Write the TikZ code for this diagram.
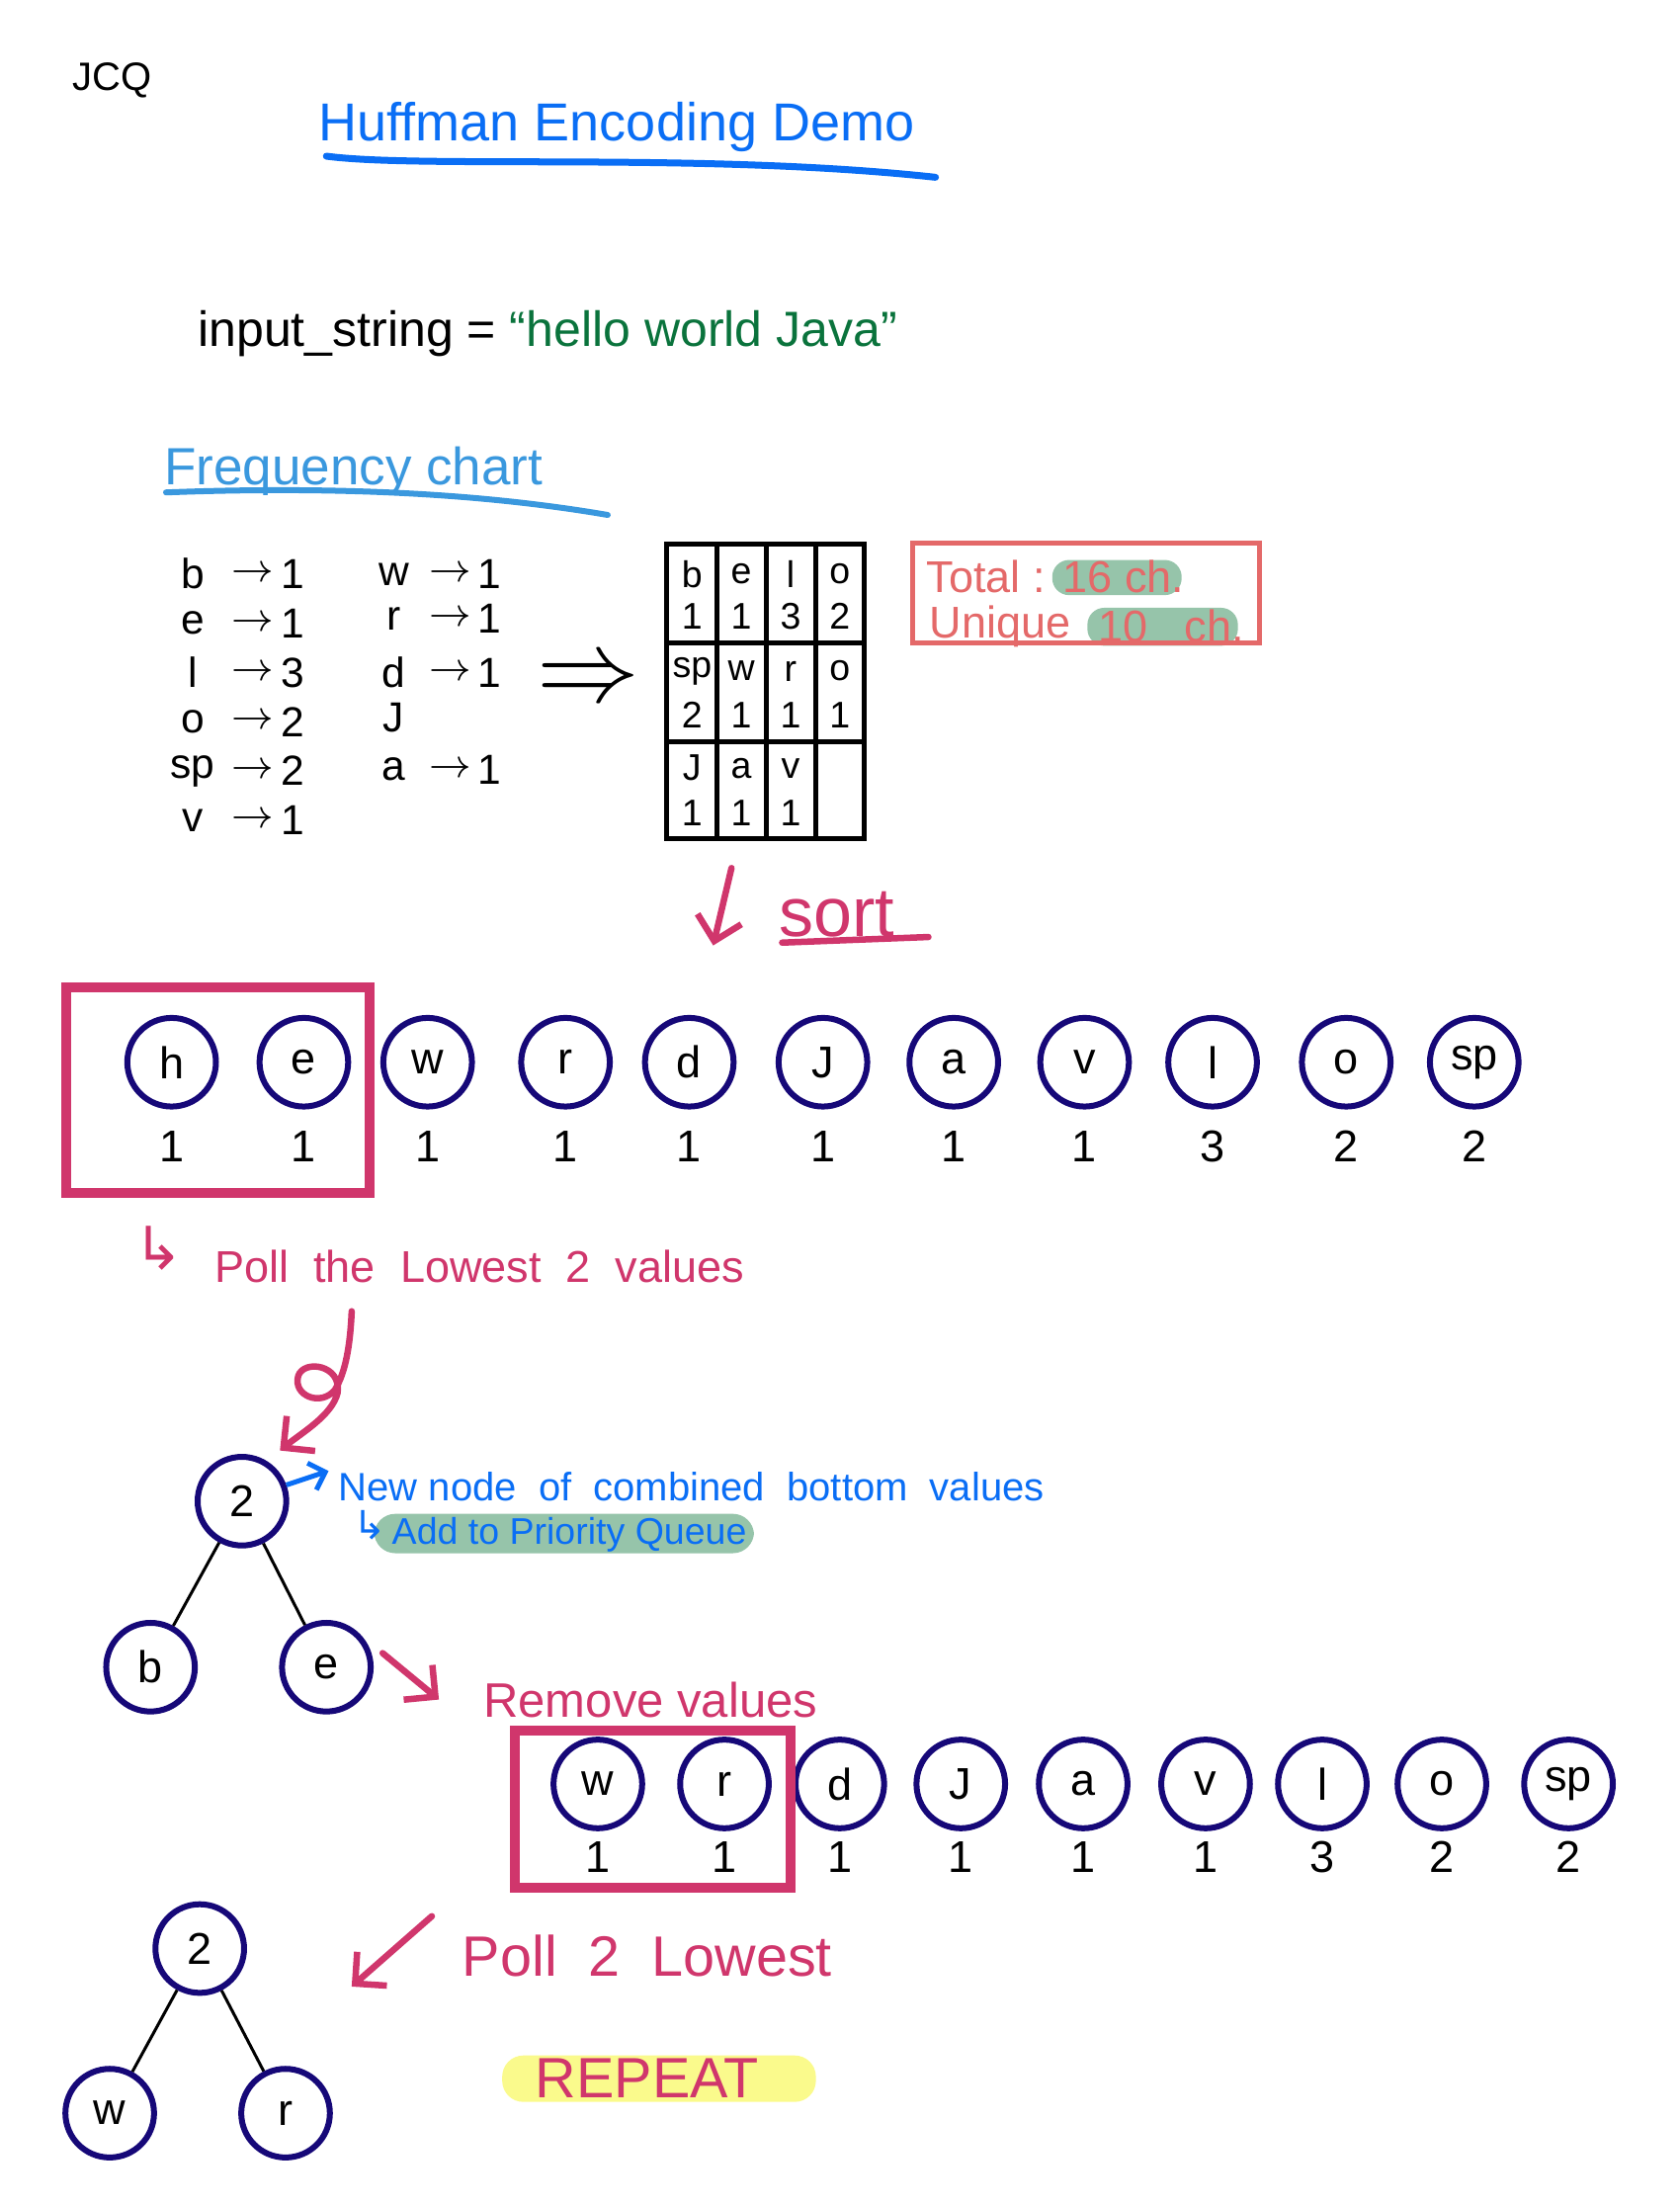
\documentclass[tikz,border=0pt]{standalone}
\usepackage{fontspec}
\setmainfont{Liberation Sans}
\newfontfamily\symfont{DejaVu Sans}
\usetikzlibrary{arrows.meta}
\definecolor{navy}{RGB}{22,8,120}
\definecolor{rose}{RGB}{208,54,108}
\definecolor{titleblue}{RGB}{10,110,245}
\definecolor{chartblue}{RGB}{58,152,222}
\definecolor{strgreen}{RGB}{10,115,60}
\definecolor{boxred}{RGB}{228,105,105}
\definecolor{hlgreen}{RGB}{150,196,170}
\definecolor{hlyellow}{RGB}{250,250,140}
\newcommand{\txtsize}[1]{\fontsize{#1}{#1}\selectfont}
\begin{document}
\begin{tikzpicture}[x=0.1mm,y=-0.1mm]
\tikzset{cnoeud/.style={draw=navy, line width=1.2pt, circle, minimum size=6.3mm, inner sep=0pt, font=\txtsize{9}},
  cnt/.style={font=\txtsize{9}},
  hand/.style={anchor=west, inner sep=0pt},
  freq/.style={font=\txtsize{8.5}, inner sep=0pt},
  cell/.style={font=\txtsize{7.5}, inner sep=0pt},
  fleche/.style={rose, line width=1.3pt, line cap=round, -{Straight Barb[length=1.6mm]}},
  trait/.style={line width=0.6pt}}
\useasboundingbox (0,0) rectangle (1194,1568);
\node[font=\txtsize{8}] (jcq) at (80,57) {JCQ};
\node[hand, titleblue, font=\txtsize{10.8}] (titre) at (226,90) {Huffman Encoding Demo};
\draw[titleblue, line width=1.4pt, line cap=round] (232,111) .. controls (300,120) and (500,108) .. (665,126);
\node[hand, font=\txtsize{10}] (entree) at (140,237) {input\_string = \textcolor{strgreen}{“hello world Java”}};
\node[hand, chartblue, font=\txtsize{10.6}] (chart) at (116,335) {Frequency chart};
\draw[chartblue, line width=1.2pt, line cap=round] (118,350) .. controls (250,345) and (350,352) .. (432,366);
\foreach \l/\n [count=\i] in {b/1,e/1,l/3,o/2,sp/2,v/1} {
  \node[freq] (fl\i) at (137,373+35*\i) {\l};
  \node[freq] (fa\i) at (180,373+35*\i) {$\rightarrow$};
  \node[freq] (fn\i) at (208,373+35*\i) {\n};
}
\foreach \l/\n/\y [count=\i] in {w/1/408,r/1/440,d/1/478,a/1/547} {
  \node[freq] (gl\i) at (280,\y) {\l};
  \node[freq] (ga\i) at (320,\y) {$\rightarrow$};
  \node[freq] (gn\i) at (348,\y) {\n};
}
\node[freq] (gj) at (280,510) {J};
\node[font=\txtsize{22}] (donne) at (418,485) {$\Rightarrow$};
\draw[line width=1pt] (474,387) rectangle (614,596);
\foreach \x in {510,545,580} \draw[line width=1pt] (\x,387) -- (\x,596);
\foreach \y in {457,527} \draw[line width=1pt] (474,\y) -- (614,\y);
\foreach \l/\n/\x/\y [count=\i] in {b/1/492/0,e/1/527/0,l/3/562/0,o/2/597/0,sp/2/492/1,w/1/527/1,r/1/562/1,o/1/597/1,J/1/492/2,a/1/527/2,v/1/562/2} {
  \node[cell] (tl\i) at (\x,408+69*\y) {\l};
  \node[cell] (tn\i) at (\x,438+70*\y) {\n};
}
\fill[hlgreen, rounded corners=1.2mm] (748,398) rectangle (840,423);
\fill[hlgreen, rounded corners=1.2mm] (773,432) rectangle (880,459);
\draw[boxred, line width=1pt] (649,386) rectangle (895,457);
\node[hand, boxred, font=\txtsize{9}] (total) at (658,410) {Total :};
\node[hand, boxred, font=\txtsize{9}] (totaln) at (755,410) {16 ch.};
\node[hand, boxred, font=\txtsize{9}] (uniq) at (660,445) {Unique};
\node[hand, boxred, font=\txtsize{9}] (uniqn) at (780,445) {10 \ \ ch.};
\coordinate (s1) at (520,617);
\coordinate (s2) at (507,672);
\draw[fleche] (s1) -- (s2);
\node[hand, rose, font=\txtsize{14}] (tri) at (553,650) {sort};
\draw[rose, line width=1.3pt, line cap=round] (556,670) -- (660,666);
\foreach \l/\n/\x [count=\i] in {h/1/122,e/1/216,w/1/304,r/1/402,d/1/490,J/1/585,a/1/678,v/1/771,l/3/862,o/2/957,sp/2/1048} {
  \node[cnoeud] (qa\i) at (\x,755) {\l};
  \node[cnt] (qn\i) at (\x,815) {\n};
}
\draw[rose, line width=2pt] (47,702) rectangle (263,848);
\node[rose, font=\symfont\txtsize{12}] (crochet1) at (113,887) {↳};
\node[hand, rose, font=\txtsize{9}] (poll) at (152,900) {Poll \ the \ Lowest \ 2 \ values};
\coordinate (b1) at (250,932);
\coordinate (b2) at (199,1031);
\draw[fleche] (b1) .. controls (249,955) and (246,975) .. (238,988) .. controls (228,1000) and (208,992) .. (212,978) .. controls (216,966) and (243,970) .. (240,990) .. controls (236,1006) and (215,1018) .. (b2);
\node[cnoeud] (t1r) at (172,1067) {2};
\node[cnoeud] (t1b) at (107,1185) {b};
\node[cnoeud] (t1e) at (232,1185) {e};
\draw[trait] (t1r) -- (t1b);
\draw[trait] (t1r) -- (t1e);
\fill[hlgreen, rounded corners=1.5mm] (266,1076) rectangle (536,1104);
\draw[titleblue, line width=1pt, -{Straight Barb[length=1mm]}] (t1r.20) -- ++(30,-10);
\node[hand, titleblue, font=\txtsize{8}] (nouveau) at (240,1057) {New node \ of \ combined \ bottom \ values};
\node[titleblue, font=\symfont\txtsize{8}] (crochet2) at (263,1084) {↳};
\node[hand, titleblue, font=\txtsize{7.5}] (ajout) at (278,1091) {Add to Priority Queue};
\coordinate (r1) at (272,1175);
\coordinate (r2) at (312,1208);
\draw[fleche] (r1) -- (r2);
\node[hand, rose, font=\txtsize{9.8}] (retire) at (343,1208) {Remove values};
\foreach \l/\n/\x [count=\i] in {w/1/425,r/1/515,d/1/597,J/1/683,a/1/770,v/1/857,l/3/940,o/2/1025,sp/2/1115} {
  \node[cnoeud] (qb\i) at (\x,1268) {\l};
  \node[cnt] (qm\i) at (\x,1320) {\n};
}
\draw[rose, line width=2pt] (366,1230) rectangle (562,1342);
\node[cnoeud] (t2r) at (142,1385) {2};
\node[cnoeud] (t2w) at (78,1502) {w};
\node[cnoeud] (t2r2) at (203,1502) {r};
\draw[trait] (t2r) -- (t2w);
\draw[trait] (t2r) -- (t2r2);
\coordinate (p1) at (307,1362);
\coordinate (p2) at (250,1412);
\draw[fleche] (p1) -- (p2);
\node[hand, rose, font=\txtsize{11.5}] (poll2) at (328,1390) {Poll \ 2 \ Lowest};
\fill[hlyellow, rounded corners=1.5mm] (357,1461) rectangle (580,1494);
\node[rose, font=\txtsize{11.5}] (repete) at (460,1477) {REPEAT};
\end{tikzpicture}
\end{document}
